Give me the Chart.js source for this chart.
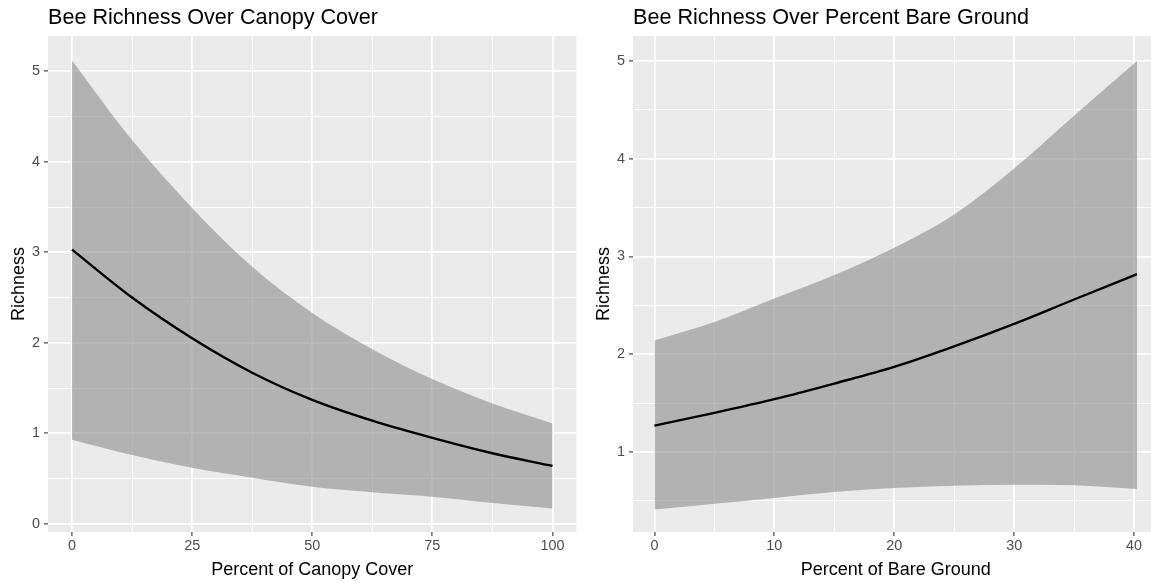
<!DOCTYPE html>
<html>
<head>
<meta charset="utf-8">
<title>Bee Richness</title>
<script src="https://cdn.jsdelivr.net/npm/chart.js@4.4.1/dist/chart.umd.min.js"></script>
<style>
    html, body { margin: 0; padding: 0; background: #FFFFFF; overflow: hidden; }
    body { width: 1151px; height: 583px; position: relative; }
    canvas { position: absolute; top: 0; }
    #canopyCanvas { left: 0; }
    #bareCanvas { left: 585px; }
</style>
</head>
<body>
<canvas id="canopyCanvas" width="585" height="583"></canvas>
<canvas id="bareCanvas" width="580" height="583"></canvas>
<script>
// Canopy cover model: predicted richness with confidence band
var canopyX = [0, 12.5, 25, 37.5, 50, 62.5, 75, 87.5, 100];
var canopyFit = [3.03, 2.50, 2.05, 1.67, 1.37, 1.14, 0.95, 0.78, 0.64];
var canopyUpper = [5.12, 4.24, 3.49, 2.84, 2.33, 1.93, 1.60, 1.33, 1.11];
var canopyLower = [0.93, 0.76, 0.62, 0.51, 0.41, 0.35, 0.30, 0.23, 0.17];
var canopyXMajor = [0, 25, 50, 75, 100];
var canopyXMinor = [12.5, 37.5, 62.5, 87.5];
var canopyYMajor = [0, 1, 2, 3, 4, 5];
var canopyYMinor = [0.5, 1.5, 2.5, 3.5, 4.5];

// Bare ground model
var bareX = [0, 5, 10, 15, 20, 25, 30, 35, 40.25];
var bareFit = [1.27, 1.40, 1.54, 1.70, 1.87, 2.08, 2.31, 2.56, 2.82];
var bareUpper = [2.14, 2.33, 2.57, 2.81, 3.09, 3.43, 3.90, 4.44, 5.00];
var bareLower = [0.41, 0.47, 0.53, 0.59, 0.63, 0.655, 0.665, 0.66, 0.62];
var bareXMajor = [0, 10, 20, 30, 40];
var bareXMinor = [5, 15, 25, 35];
var bareYMajor = [1, 2, 3, 4, 5];
var bareYMinor = [0.5, 1.5, 2.5, 3.5, 4.5];

Chart.defaults.font.family = "'Liberation Sans', Arial, sans-serif";

// grey panel behind the grid, ggplot style
var panelBackground = {
    id: 'panelBackground',
    beforeDraw: function (chart) {
        var a = chart.chartArea;
        var ctx = chart.ctx;
        ctx.save();
        ctx.fillStyle = '#EBEBEB';
        ctx.fillRect(a.left, a.top, a.right - a.left, a.bottom - a.top);
        ctx.restore();
    }
};

function toPoints(xs, ys) {
    return xs.map(function (x, i) { return { x: x, y: ys[i] }; });
}

function buildAxis(range, major, minor, title, isY) {
    var all = major.concat(minor).sort(function (a, b) { return a - b; });
    var isMajor = function (v) { return major.indexOf(v) !== -1; };
    return {
        type: 'linear',
        min: range[0],
        max: range[1],
        afterBuildTicks: function (axis) {
            axis.ticks = all.map(function (v) { return { value: v }; });
        },
        afterFit: function (axis) {
            if (isY) axis.width = 48;
            else axis.height = 51;
        },
        border: { display: false },
        grid: {
            color: '#FFFFFF',
            lineWidth: function (c) { return c.tick && isMajor(c.tick.value) ? 1.8 : 0.9; },
            tickLength: 4,
            tickWidth: 1.1,
            tickColor: function (c) { return c.tick && isMajor(c.tick.value) ? '#333333' : 'rgba(0,0,0,0)'; }
        },
        ticks: {
            autoSkip: false,
            maxRotation: 0,
            padding: isY ? 4 : 1,
            color: '#4D4D4D',
            font: { size: 14.4 },
            callback: function (v) { return isMajor(v) ? String(v) : ''; }
        },
        title: {
            display: true,
            text: title,
            color: '#000000',
            font: { size: 18, lineHeight: isY ? 1.2 : 1 },
            padding: isY ? { top: 8, bottom: 0 } : { top: 0, bottom: 4 }
        }
    };
}

function buildPanel(canvasId, opts) {
    var ctx = document.getElementById(canvasId).getContext('2d');
    return new Chart(ctx, {
        type: 'line',
        data: {
            datasets: [
                {
                    label: 'lower',
                    data: toPoints(opts.x, opts.lower),
                    order: 2,
                    borderWidth: 0,
                    pointRadius: 0,
                    fill: false,
                    cubicInterpolationMode: 'monotone'
                },
                {
                    label: 'upper',
                    data: toPoints(opts.x, opts.upper),
                    order: 1,
                    borderWidth: 0,
                    pointRadius: 0,
                    backgroundColor: 'rgba(140,140,140,0.6)',
                    fill: '-1',
                    cubicInterpolationMode: 'monotone'
                },
                {
                    label: 'fit',
                    data: toPoints(opts.x, opts.fit),
                    order: 0,
                    borderColor: '#000000',
                    borderWidth: 2.4,
                    pointRadius: 0,
                    fill: false,
                    cubicInterpolationMode: 'monotone'
                }
            ]
        },
        options: {
            responsive: false,
            animation: false,
            layout: { padding: { left: 0, top: 0, bottom: 0, right: opts.padRight } },
            plugins: {
                legend: { display: false },
                tooltip: { enabled: false },
                title: {
                    display: true,
                    text: opts.title,
                    align: 'start',
                    fullSize: false,
                    color: '#000000',
                    font: { size: 21.6, weight: 'normal', lineHeight: 1.2 },
                    padding: { top: 5, bottom: 5.08 }
                }
            },
            scales: {
                x: buildAxis(opts.xRange, opts.xMajor, opts.xMinor, opts.xTitle, false),
                y: buildAxis(opts.yRange, opts.yMajor, opts.yMinor, 'Richness', true)
            }
        },
        plugins: [panelBackground]
    });
}

buildPanel('canopyCanvas', {
    title: 'Bee Richness Over Canopy Cover',
    xTitle: 'Percent of Canopy Cover',
    x: canopyX, fit: canopyFit, upper: canopyUpper, lower: canopyLower,
    xRange: [-5, 105], yRange: [-0.09, 5.39],
    xMajor: canopyXMajor, xMinor: canopyXMinor,
    yMajor: canopyYMajor, yMinor: canopyYMinor,
    padRight: 8.5
});

buildPanel('bareCanvas', {
    title: 'Bee Richness Over Percent Bare Ground',
    xTitle: 'Percent of Bare Ground',
    x: bareX, fit: bareFit, upper: bareUpper, lower: bareLower,
    xRange: [-1.79, 42.05], yRange: [0.181, 5.256],
    xMajor: bareXMajor, xMinor: bareXMinor,
    yMajor: bareYMajor, yMinor: bareYMinor,
    padRight: 6.4
});
</script>
</body>
</html>
